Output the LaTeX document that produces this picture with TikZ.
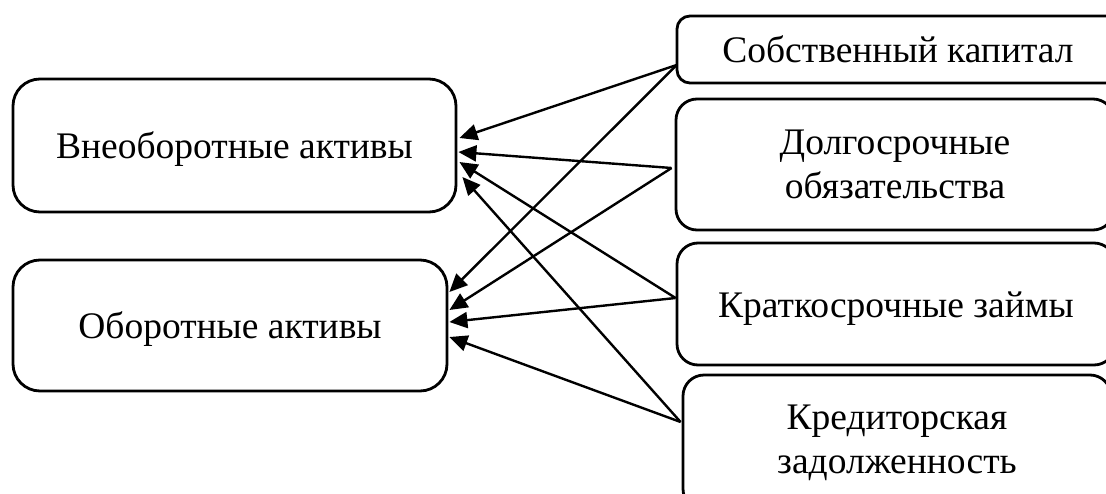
\documentclass[tikz,border=0pt]{standalone}
\usepackage{fontspec}
\setmainfont{Liberation Serif}
\usetikzlibrary{arrows.meta}
\begin{document}
\begin{tikzpicture}[x=1pt,y=-1pt,
  box/.style={draw=black,line width=2.8pt,align=center,inner sep=0pt,
    font=\fontsize{37.5}{44}\selectfont},
  oneline/.style={text height=34pt,text depth=8pt},
  arr/.style={line width=2.4pt,-{Triangle[length=18pt,width=16pt]}}]
\useasboundingbox (0,0) rectangle (1106,493);
\clip (0,0) rectangle (1106,493);
\node[box,oneline,rounded corners=27pt,minimum width=443pt,minimum height=133pt] (b1) at (234.5,145.5) {Внеоборотные активы};
\node[box,oneline,rounded corners=27pt,minimum width=434pt,minimum height=131pt] (b2) at (230,325.5) {Оборотные активы};
\node[box,oneline,rounded corners=13pt,minimum width=442pt,minimum height=67pt] (b3) at (898,49.5) {Собственный капитал};
\node[box,rounded corners=21pt,minimum width=438pt,minimum height=131pt] (b4) at (895,164.5) {Долгосрочные\\обязательства};
\node[box,oneline,rounded corners=21pt,minimum width=438pt,minimum height=122pt] (b5) at (896,304) {Краткосрочные займы};
\node[box,rounded corners=21pt,minimum width=428pt,minimum height=135pt] (b6) at (897,442.5) {Кредиторская\\задолженность};
% to b1
\draw[arr] ([shift={(1pt,-15.5pt)}]b3.west) -- ([shift={(2pt,7.5pt)}]b1.east);
\draw[arr] ([shift={(-3pt,-3.5pt)}]b4.west) -- ([shift={(1pt,-6.5pt)}]b1.east);
\draw[arr] ([shift={(0pt,6pt)}]b5.west) -- ([shift={(2pt,-16.5pt)}]b1.east);
\draw[arr] ([shift={(-1pt,20.5pt)}]b6.west) -- ([shift={(5pt,-31.5pt)}]b1.east);
% to b2
\draw[arr] ([shift={(1pt,-15.5pt)}]b3.west) -- ([shift={(1pt,33.5pt)}]b2.east);
\draw[arr] ([shift={(-3pt,-3.5pt)}]b4.west) -- ([shift={(1pt,15.5pt)}]b2.east);
\draw[arr] ([shift={(0pt,6pt)}]b5.west) -- ([shift={(1pt,3.5pt)}]b2.east);
\draw[arr] ([shift={(-1pt,20.5pt)}]b6.west) -- ([shift={(1pt,-11.5pt)}]b2.east);
\end{tikzpicture}
\end{document}
